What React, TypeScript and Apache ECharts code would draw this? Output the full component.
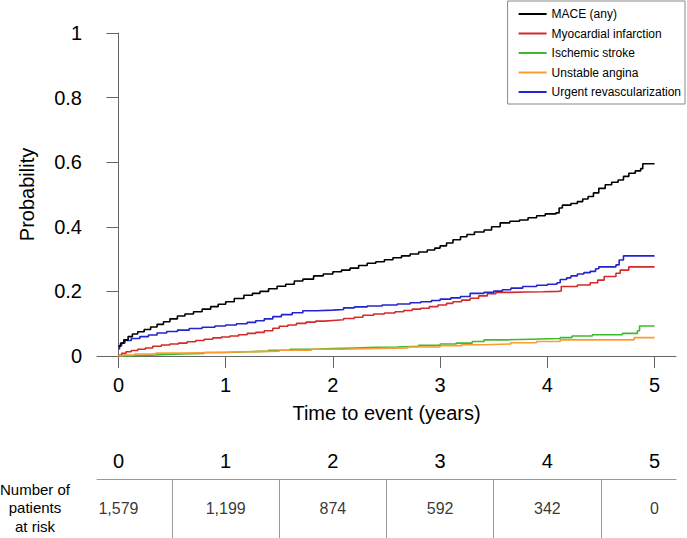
import React, { useEffect, useRef } from "react";
import * as echarts from "echarts";

// Cumulative incidence step data: [time (years), probability]
const mace: [number, number][] = [
  [0, 0.03], [0.02, 0.04], [0.05, 0.05], [0.09, 0.06], [0.13, 0.068], [0.18, 0.075],
  [0.24, 0.082], [0.3, 0.09], [0.36, 0.098], [0.42, 0.106], [0.48, 0.115], [0.55, 0.124],
  [0.62, 0.13], [0.7, 0.137], [0.78, 0.145], [0.86, 0.153], [0.93, 0.16], [1.0, 0.168],
  [1.08, 0.178], [1.17, 0.188], [1.25, 0.194], [1.32, 0.2], [1.4, 0.208], [1.48, 0.216],
  [1.56, 0.222], [1.64, 0.232], [1.72, 0.238], [1.82, 0.248], [1.91, 0.254], [2.0, 0.261],
  [2.08, 0.266], [2.16, 0.272], [2.24, 0.28], [2.32, 0.287], [2.4, 0.292], [2.48, 0.298],
  [2.56, 0.304], [2.64, 0.31], [2.72, 0.316], [2.8, 0.322], [2.88, 0.328], [2.95, 0.334],
  [3.0, 0.341], [3.06, 0.35], [3.12, 0.36], [3.19, 0.369], [3.25, 0.376], [3.32, 0.384],
  [3.41, 0.39], [3.48, 0.4], [3.56, 0.412], [3.65, 0.417], [3.74, 0.421], [3.82, 0.428],
  [3.9, 0.434], [3.98, 0.44], [4.08, 0.443], [4.11, 0.458], [4.14, 0.467], [4.22, 0.472],
  [4.28, 0.478], [4.33, 0.486], [4.38, 0.494], [4.43, 0.505], [4.48, 0.519], [4.54, 0.53],
  [4.6, 0.538], [4.66, 0.545], [4.71, 0.556], [4.76, 0.566], [4.82, 0.573], [4.87, 0.58],
  [4.89, 0.595], [5.0, 0.595],
];

const myocardial: [number, number][] = [
  [0, 0.002], [0.03, 0.008], [0.07, 0.013], [0.12, 0.017], [0.18, 0.021], [0.25, 0.025],
  [0.32, 0.03], [0.4, 0.034], [0.48, 0.037], [0.56, 0.04], [0.64, 0.044], [0.72, 0.048],
  [0.8, 0.052], [0.88, 0.056], [0.96, 0.059], [1.04, 0.062], [1.12, 0.066], [1.2, 0.07],
  [1.28, 0.073], [1.36, 0.078], [1.44, 0.086], [1.5, 0.092], [1.58, 0.096], [1.66, 0.101],
  [1.75, 0.105], [1.84, 0.108], [1.92, 0.11], [2.0, 0.112], [2.1, 0.116], [2.2, 0.12],
  [2.28, 0.126], [2.38, 0.13], [2.48, 0.133], [2.58, 0.137], [2.66, 0.141], [2.74, 0.145],
  [2.82, 0.148], [2.9, 0.153], [2.98, 0.158], [3.06, 0.163], [3.12, 0.168], [3.2, 0.173],
  [3.28, 0.179], [3.36, 0.186], [3.44, 0.193], [3.52, 0.197], [3.66, 0.198], [3.8, 0.199],
  [3.96, 0.2], [4.1, 0.201], [4.13, 0.215], [4.28, 0.22], [4.4, 0.227], [4.47, 0.235],
  [4.53, 0.246], [4.64, 0.256], [4.68, 0.266], [4.76, 0.276], [5.0, 0.276],
];

const stroke: [number, number][] = [
  [0, 0], [0.1, 0.002], [0.25, 0.004], [0.4, 0.006], [0.6, 0.008], [0.8, 0.011],
  [1.0, 0.013], [1.2, 0.015], [1.4, 0.018], [1.6, 0.021], [1.8, 0.023], [2.0, 0.025],
  [2.2, 0.027], [2.4, 0.028], [2.6, 0.03], [2.8, 0.033], [3.0, 0.037], [3.15, 0.04],
  [3.3, 0.045], [3.41, 0.05], [3.6, 0.052], [3.85, 0.054], [4.12, 0.057], [4.23, 0.062],
  [4.42, 0.066], [4.7, 0.07], [4.84, 0.078], [4.86, 0.093], [5.0, 0.093],
];

const angina: [number, number][] = [
  [0, 0], [0.04, 0.003], [0.15, 0.006], [0.35, 0.009], [0.6, 0.011], [0.9, 0.013],
  [1.2, 0.015], [1.5, 0.018], [1.8, 0.021], [2.1, 0.023], [2.4, 0.025], [2.7, 0.028],
  [3.0, 0.032], [3.2, 0.035], [3.41, 0.037], [3.66, 0.041], [3.9, 0.045], [4.12, 0.05],
  [4.81, 0.057], [5.0, 0.057],
];

const revasc: [number, number][] = [
  [0, 0.022], [0.01, 0.032], [0.03, 0.04], [0.06, 0.048], [0.12, 0.054], [0.2, 0.06],
  [0.28, 0.065], [0.36, 0.071], [0.45, 0.076], [0.55, 0.08], [0.66, 0.085], [0.78, 0.089],
  [0.9, 0.093], [1.0, 0.096], [1.1, 0.1], [1.2, 0.104], [1.28, 0.109], [1.36, 0.115],
  [1.44, 0.122], [1.52, 0.128], [1.62, 0.134], [1.72, 0.14], [1.85, 0.142], [2.0, 0.144],
  [2.1, 0.149], [2.2, 0.152], [2.32, 0.155], [2.46, 0.158], [2.6, 0.161], [2.72, 0.165],
  [2.82, 0.168], [2.92, 0.172], [3.0, 0.176], [3.1, 0.18], [3.19, 0.184], [3.28, 0.194],
  [3.41, 0.197], [3.5, 0.201], [3.58, 0.205], [3.66, 0.21], [3.77, 0.215], [3.9, 0.219],
  [4.0, 0.222], [4.09, 0.227], [4.12, 0.237], [4.18, 0.242], [4.22, 0.248], [4.28, 0.254],
  [4.34, 0.258], [4.4, 0.262], [4.45, 0.27], [4.48, 0.276], [4.64, 0.282], [4.67, 0.297],
  [4.71, 0.31], [5.0, 0.31],
];

const seriesNames = [
  "MACE (any)",
  "Myocardial infarction",
  "Ischemic stroke",
  "Unstable angina",
  "Urgent revascularization",
];
const seriesColors = ["#000000", "#d42a2a", "#3dbb2e", "#ff9a30", "#2424cc"];

const xTicks = [0, 1, 2, 3, 4, 5];
const atRiskYears = [0, 1, 2, 3, 4, 5];
const atRisk = [1579, 1199, 874, 592, 342, 0];
const tableDividers = [0.5, 1.5, 2.5, 3.5, 4.5];

const FONT = "'Liberation Sans', Arial, Helvetica, sans-serif";
const AXIS_GRAY = "#666666";

export default function App() {
  const ref = useRef<HTMLDivElement>(null);

  useEffect(() => {
    if (!ref.current) return;
    const chart = echarts.init(ref.current, undefined, { renderer: "svg" });
    const curves = [mace, myocardial, stroke, angina, revasc];

    const option: any = {
      animation: false,
      backgroundColor: "#ffffff",
      textStyle: { fontFamily: FONT, color: "#000" },
      legend: {
        orient: "vertical",
        right: 2,
        top: 1,
        icon: "rect",
        itemWidth: 28,
        itemHeight: 2,
        itemGap: 5.5,
        padding: [6, 4, 5, 11],
        borderColor: "#888888",
        borderWidth: 1,
        textStyle: { fontSize: 12, color: "#000", lineHeight: 14, fontFamily: FONT },
        data: seriesNames,
      },
      grid: [
        { left: 97, right: 11, top: 33, bottom: 182 },
        { left: 97, right: 11, top: 479, bottom: 0 },
      ],
      xAxis: [
        {
          type: "value",
          gridIndex: 0,
          min: -0.2,
          max: 5.2,
          name: "Time to event (years)",
          nameLocation: "middle",
          nameGap: 47,
          nameTextStyle: { fontSize: 20, color: "#000", fontFamily: FONT },
          axisLine: { show: true, onZero: false, lineStyle: { color: AXIS_GRAY, width: 1 } },
          axisTick: { show: true, length: 12, customValues: xTicks, lineStyle: { color: AXIS_GRAY } },
          axisLabel: { fontSize: 20, color: "#000", margin: 19, customValues: xTicks, fontFamily: FONT },
          splitLine: { show: false },
        },
        {
          type: "value",
          gridIndex: 1,
          position: "top",
          min: -0.2,
          max: 5.2,
          axisLine: { show: true, onZero: false, lineStyle: { color: "#999999", width: 1 } },
          axisTick: { show: false, customValues: atRiskYears },
          axisLabel: { fontSize: 20, color: "#000", margin: 8, customValues: atRiskYears, fontFamily: FONT },
          splitLine: { show: false },
        },
      ],
      yAxis: [
        {
          type: "value",
          gridIndex: 0,
          min: 0,
          max: 1,
          interval: 0.2,
          name: "Probability",
          nameLocation: "middle",
          nameGap: 60,
          nameTextStyle: { fontSize: 20, color: "#000", fontFamily: FONT },
          axisLine: { show: true, lineStyle: { color: AXIS_GRAY, width: 1 } },
          axisTick: { show: true, length: 12, lineStyle: { color: AXIS_GRAY } },
          axisLabel: { fontSize: 20, color: "#000", margin: 15, fontFamily: FONT },
          splitLine: { show: false },
        },
        {
          type: "value",
          gridIndex: 1,
          min: 0,
          max: 1,
          show: false,
        },
      ],
      graphic: [
        {
          type: "text",
          left: 0,
          top: 480,
          style: {
            text: "Number of\npatients\nat risk",
            x: 37,
            y: 0,
            textAlign: "center",
            fontSize: 15,
            lineHeight: 18.5,
            fontFamily: FONT,
            fill: "#000",
          },
        },
      ],
      series: [
        ...curves.map((d, i) => ({
          name: seriesNames[i],
          type: "line",
          xAxisIndex: 0,
          yAxisIndex: 0,
          step: "end",
          data: d,
          symbol: "none",
          showSymbol: false,
          color: seriesColors[i],
          lineStyle: { color: seriesColors[i], width: 1.6 },
          z: i === 0 ? 6 : 5,
        })),
        {
          name: "atRisk",
          type: "scatter",
          xAxisIndex: 1,
          yAxisIndex: 1,
          symbolSize: 0,
          data: atRiskYears.map((t, i) => [t, 0.5, atRisk[i]]),
          label: {
            show: true,
            position: "inside",
            fontSize: 16,
            color: "#000",
            fontFamily: FONT,
            formatter: (p: any) => Number(p.value[2]).toLocaleString("en-US"),
          },
          markLine: {
            silent: true,
            symbol: "none",
            label: { show: false },
            lineStyle: { color: "#999999", width: 1, type: "solid" },
            data: tableDividers.map((x) => ({ xAxis: x })),
          },
        },
      ],
    };

    chart.setOption(option);
    return () => chart.dispose();
  }, []);

  return (
    <div
      ref={ref}
      style={{ position: "fixed", left: 0, top: 0, width: 687, height: 538 }}
    />
  );
}
